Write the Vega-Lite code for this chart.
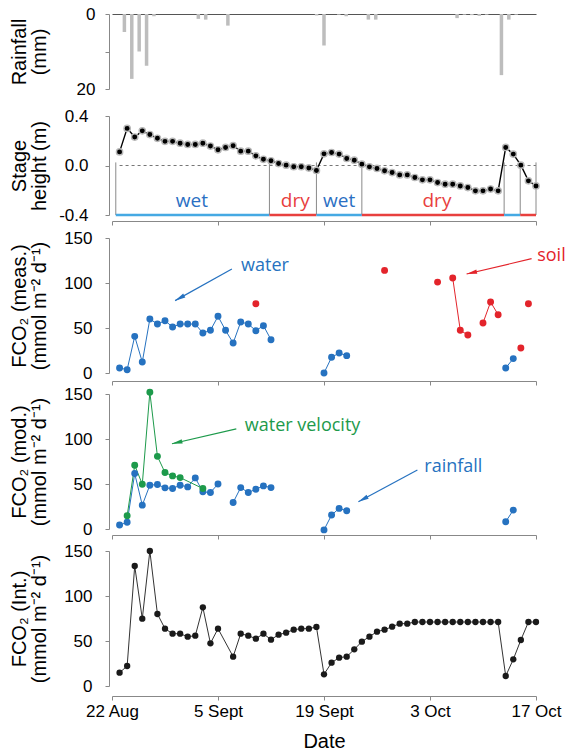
{
 "$schema": "https://vega.github.io/schema/vega-lite/v6.json",
 "padding": {"left": 9, "top": 5, "right": 0, "bottom": 0},
 "bounds": "flush",
 "spacing": 21,
 "resolve": {"scale": {"color": "independent"}},
 "config": {
  "view": {"stroke": null},
  "font": "Liberation Sans",
  "axis": {"grid": false, "domainColor": "#888", "tickColor": "#888", "labelColor": "#000", "labelFont": "Liberation Sans", "labelFontSize": 17, "titleFont": "Liberation Sans", "titleFontSize": 20, "titleFontWeight": "normal", "titleColor": "#000", "tickSize": 4, "labelFlush": false, "labelOverlap": false, "titleLineHeight": 20}
 },
 "datasets": {
  "stage": [
   {"date":"2017/08/23","h":0.11},{"date":"2017/08/24","h":0.30},{"date":"2017/08/25","h":0.23},{"date":"2017/08/26","h":0.28},{"date":"2017/08/27","h":0.25},{"date":"2017/08/28","h":0.22},{"date":"2017/08/29","h":0.195},{"date":"2017/08/30","h":0.195},{"date":"2017/08/31","h":0.18},{"date":"2017/09/01","h":0.17},{"date":"2017/09/02","h":0.17},{"date":"2017/09/03","h":0.18},{"date":"2017/09/04","h":0.157},{"date":"2017/09/05","h":0.127},{"date":"2017/09/06","h":0.146},{"date":"2017/09/07","h":0.16},{"date":"2017/09/08","h":0.116},{"date":"2017/09/09","h":0.116},{"date":"2017/09/10","h":0.078},{"date":"2017/09/11","h":0.05},{"date":"2017/09/12","h":0.038},{"date":"2017/09/13","h":0.016},{"date":"2017/09/14","h":0.003},{"date":"2017/09/15","h":-0.01},{"date":"2017/09/16","h":-0.01},{"date":"2017/09/17","h":-0.02},{"date":"2017/09/18","h":-0.04},{"date":"2017/09/19","h":0.094},{"date":"2017/09/20","h":0.105},{"date":"2017/09/21","h":0.092},{"date":"2017/09/22","h":0.057},{"date":"2017/09/23","h":0.043},{"date":"2017/09/24","h":0.011},{"date":"2017/09/25","h":-0.011},{"date":"2017/09/26","h":-0.024},{"date":"2017/09/27","h":-0.043},{"date":"2017/09/28","h":-0.057},{"date":"2017/09/29","h":-0.076},{"date":"2017/09/30","h":-0.076},{"date":"2017/10/01","h":-0.097},{"date":"2017/10/02","h":-0.116},{"date":"2017/10/03","h":-0.116},{"date":"2017/10/04","h":-0.138},{"date":"2017/10/05","h":-0.151},{"date":"2017/10/06","h":-0.151},{"date":"2017/10/07","h":-0.165},{"date":"2017/10/08","h":-0.178},{"date":"2017/10/09","h":-0.205},{"date":"2017/10/10","h":-0.205},{"date":"2017/10/11","h":-0.19},{"date":"2017/10/12","h":-0.205},{"date":"2017/10/13","h":0.146},{"date":"2017/10/14","h":0.092},{"date":"2017/10/15","h":0.003},{"date":"2017/10/16","h":-0.124},{"date":"2017/10/17","h":-0.165}
  ],
  "meas": [
   {"date":"2017/08/23","v":5.6,"type":"water","seg":"w1"},{"date":"2017/08/24","v":3.7,"type":"water","seg":"w1"},{"date":"2017/08/25","v":40.7,"type":"water","seg":"w1"},{"date":"2017/08/26","v":12.2,"type":"water","seg":"w1"},{"date":"2017/08/27","v":60,"type":"water","seg":"w1"},{"date":"2017/08/28","v":54.4,"type":"water","seg":"w1"},{"date":"2017/08/29","v":58.1,"type":"water","seg":"w1"},{"date":"2017/08/30","v":51.1,"type":"water","seg":"w1"},{"date":"2017/08/31","v":54.4,"type":"water","seg":"w1"},{"date":"2017/09/01","v":54.4,"type":"water","seg":"w1"},{"date":"2017/09/02","v":54.4,"type":"water","seg":"w1"},{"date":"2017/09/03","v":44.4,"type":"water","seg":"w1"},{"date":"2017/09/04","v":47.4,"type":"water","seg":"w1"},{"date":"2017/09/05","v":63,"type":"water","seg":"w1"},{"date":"2017/09/06","v":47.4,"type":"water","seg":"w1"},{"date":"2017/09/07","v":33.3,"type":"water","seg":"w1"},{"date":"2017/09/08","v":56.7,"type":"water","seg":"w1"},{"date":"2017/09/09","v":54.4,"type":"water","seg":"w1"},{"date":"2017/09/10","v":47,"type":"water","seg":"w1"},{"date":"2017/09/11","v":52.6,"type":"water","seg":"w1"},{"date":"2017/09/12","v":37,"type":"water","seg":"w1"},
   {"date":"2017/09/19","v":0,"type":"water","seg":"w2"},{"date":"2017/09/20","v":17.4,"type":"water","seg":"w2"},{"date":"2017/09/21","v":22.2,"type":"water","seg":"w2"},{"date":"2017/09/22","v":19.3,"type":"water","seg":"w2"},
   {"date":"2017/10/13","v":5.6,"type":"water","seg":"w3"},{"date":"2017/10/14","v":16,"type":"water","seg":"w3"},
   {"date":"2017/09/10","v":77,"type":"soil","seg":null},{"date":"2017/09/27","v":114,"type":"soil","seg":null},{"date":"2017/10/04","v":101,"type":"soil","seg":null},{"date":"2017/10/06","v":105.6,"type":"soil","seg":"s1"},{"date":"2017/10/07","v":47.4,"type":"soil","seg":"s1"},{"date":"2017/10/08","v":42.2,"type":"soil","seg":"s1"},{"date":"2017/10/10","v":55.6,"type":"soil","seg":"s2"},{"date":"2017/10/11","v":78.9,"type":"soil","seg":"s2"},{"date":"2017/10/12","v":64.8,"type":"soil","seg":"s2"},{"date":"2017/10/15","v":27.8,"type":"soil","seg":null},{"date":"2017/10/16","v":77,"type":"soil","seg":null}
  ],
  "mod": [
   {"date":"2017/08/23","v":4.4,"type":"rainfall","seg":"r1"},{"date":"2017/08/24","v":7.4,"type":"rainfall","seg":"r1"},{"date":"2017/08/25","v":61.6,"type":"rainfall","seg":"r1"},{"date":"2017/08/26","v":26.5,"type":"rainfall","seg":"r1"},{"date":"2017/08/27","v":48.7,"type":"rainfall","seg":"r1"},{"date":"2017/08/28","v":49.4,"type":"rainfall","seg":"r1"},{"date":"2017/08/29","v":45.7,"type":"rainfall","seg":"r1"},{"date":"2017/08/30","v":45,"type":"rainfall","seg":"r1"},{"date":"2017/08/31","v":48.7,"type":"rainfall","seg":"r1"},{"date":"2017/09/01","v":46.8,"type":"rainfall","seg":"r1"},{"date":"2017/09/02","v":56.8,"type":"rainfall","seg":"r1"},{"date":"2017/09/03","v":41.3,"type":"rainfall","seg":"r1"},{"date":"2017/09/04","v":40.5,"type":"rainfall","seg":"r1"},{"date":"2017/09/05","v":50.1,"type":"rainfall","seg":"r1"},
   {"date":"2017/09/07","v":29.5,"type":"rainfall","seg":"r2"},{"date":"2017/09/08","v":46,"type":"rainfall","seg":"r2"},{"date":"2017/09/09","v":40.5,"type":"rainfall","seg":"r2"},{"date":"2017/09/10","v":44.2,"type":"rainfall","seg":"r2"},{"date":"2017/09/11","v":47.9,"type":"rainfall","seg":"r2"},{"date":"2017/09/12","v":46,"type":"rainfall","seg":"r2"},
   {"date":"2017/09/19","v":-1,"type":"rainfall","seg":"r3"},{"date":"2017/09/20","v":15.5,"type":"rainfall","seg":"r3"},{"date":"2017/09/21","v":22.9,"type":"rainfall","seg":"r3"},{"date":"2017/09/22","v":20.3,"type":"rainfall","seg":"r3"},
   {"date":"2017/10/13","v":8.1,"type":"rainfall","seg":"r4"},{"date":"2017/10/14","v":21,"type":"rainfall","seg":"r4"},
   {"date":"2017/08/24","v":14.7,"type":"velocity","seg":"v1"},{"date":"2017/08/25","v":70.8,"type":"velocity","seg":"v1"},{"date":"2017/08/26","v":49.8,"type":"velocity","seg":"v1"},{"date":"2017/08/27","v":151.9,"type":"velocity","seg":"v1"},{"date":"2017/08/28","v":80.7,"type":"velocity","seg":"v1"},{"date":"2017/08/29","v":62.7,"type":"velocity","seg":"v1"},{"date":"2017/08/30","v":59,"type":"velocity","seg":"v1"},{"date":"2017/08/31","v":57.1,"type":"velocity","seg":"v1"},{"date":"2017/09/03","v":45,"type":"velocity","seg":"v1"}
  ],
  "int": [
   {"date":"2017/08/23","v":14.8},{"date":"2017/08/24","v":22.2},{"date":"2017/08/25","v":133.3},{"date":"2017/08/26","v":74.8},{"date":"2017/08/27","v":150},{"date":"2017/08/28","v":80},{"date":"2017/08/29","v":63.7},{"date":"2017/08/30","v":58.1},{"date":"2017/08/31","v":58.1},{"date":"2017/09/01","v":54.8},{"date":"2017/09/02","v":55.9},{"date":"2017/09/03","v":87.4},{"date":"2017/09/04","v":47.4},{"date":"2017/09/05","v":63.7},{"date":"2017/09/07","v":32.6},{"date":"2017/09/08","v":58.1},{"date":"2017/09/09","v":55.9},{"date":"2017/09/10","v":52.6},{"date":"2017/09/11","v":58.1},{"date":"2017/09/12","v":51.5},{"date":"2017/09/13","v":57},{"date":"2017/09/14","v":59.3},{"date":"2017/09/15","v":62.6},{"date":"2017/09/16","v":63.7},{"date":"2017/09/17","v":63.7},{"date":"2017/09/18","v":65.6},{"date":"2017/09/19","v":13},{"date":"2017/09/20","v":25.9},{"date":"2017/09/21","v":31.5},{"date":"2017/09/22","v":32.6},{"date":"2017/09/23","v":40.7},{"date":"2017/09/24","v":49.3},{"date":"2017/09/25","v":54.8},{"date":"2017/09/26","v":60.4},{"date":"2017/09/27","v":62.6},{"date":"2017/09/28","v":65.9},{"date":"2017/09/29","v":69.3},{"date":"2017/09/30","v":69.3},{"date":"2017/10/01","v":71.1},{"date":"2017/10/02","v":71.1},{"date":"2017/10/03","v":71.1},{"date":"2017/10/04","v":71.1},{"date":"2017/10/05","v":71.1},{"date":"2017/10/06","v":71.1},{"date":"2017/10/07","v":71.1},{"date":"2017/10/08","v":71.1},{"date":"2017/10/09","v":71.1},{"date":"2017/10/10","v":71.1},{"date":"2017/10/11","v":71.1},{"date":"2017/10/12","v":71.1},{"date":"2017/10/13","v":11.1},{"date":"2017/10/14","v":29.6},{"date":"2017/10/15","v":51.1},{"date":"2017/10/16","v":71.1},{"date":"2017/10/17","v":71.1}
  ]
 },
 "vconcat": [
  {
   "width": 424, "height": 81,
   "data": {"values": [
    {"date":"2017/08/23","rain":4.8},{"date":"2017/08/24","rain":17.3},{"date":"2017/08/25","rain":10},{"date":"2017/08/26","rain":13.8},{"date":"2017/08/27","rain":0.6},{"date":"2017/09/02","rain":1.3},{"date":"2017/09/03","rain":1.5},{"date":"2017/09/06","rain":3.1},{"date":"2017/09/18","rain":0.4},{"date":"2017/09/19","rain":8.4},{"date":"2017/09/21","rain":0.2},{"date":"2017/09/22","rain":0.6},{"date":"2017/09/25","rain":1.5},{"date":"2017/09/26","rain":1.5},{"date":"2017/10/07","rain":1.1},{"date":"2017/10/08","rain":0.2},{"date":"2017/10/09","rain":0.3},{"date":"2017/10/10","rain":0.5},{"date":"2017/10/11","rain":0.2},{"date":"2017/10/13","rain":16.3},{"date":"2017/10/14","rain":1.5},{"date":"2017/10/15","rain":0.2}
   ]},
   "mark": {"type": "bar", "size": 3.5, "color": "#bdbdbd"},
   "encoding": {
    "x": {"field": "date", "type": "temporal", "scale": {"domain": [{"year":2017,"month":8,"date":22},{"year":2017,"month":10,"date":17}]}, "axis": {"orient": "top", "ticks": false, "labels": false, "title": null, "domainColor": "#555", "offset": 0}},
    "y": {"field": "rain", "type": "quantitative", "scale": {"domain": [0, 20], "range": [0, 75]}, "axis": {"values": [0, 10, 20], "labelExpr": "datum.value == 10 ? '' : datum.label", "title": ["Rainfall", "(mm)"], "offset": 3, "labelPadding": 10, "titleX": -80}}
   }
  },
  {
   "width": 424, "height": 101,
   "resolve": {"scale": {"color": "independent"}},
   "encoding": {
    "x": {"field": "date", "type": "temporal", "scale": {"domain": [{"year":2017,"month":8,"date":22},{"year":2017,"month":10,"date":17}]}, "axis": {"values": [{"year":2017,"month":8,"date":22},{"year":2017,"month":9,"date":5},{"year":2017,"month":9,"date":19},{"year":2017,"month":10,"date":3},{"year":2017,"month":10,"date":17}], "labels": false, "title": null, "offset": 4}},
    "y": {"field": "h", "type": "quantitative", "scale": {"domain": [-0.4, 0.4], "range": [99, 0]}, "axis": {"values": [-0.4, 0, 0.4], "format": ".1f", "labelExpr": "replace(datum.label, '\u2212', '-')", "title": ["Stage", "height (m)"], "offset": 3, "labelPadding": 17, "titleX": -80}}
   },
   "layer": [
    {
     "data": {"values": [{"date": "2017/08/23", "date2": "2017/10/17", "h": 0}]},
     "mark": {"type": "rule", "strokeDash": [3, 3], "color": "#777", "strokeWidth": 1},
     "encoding": {"x2": {"field": "date2"}}
    },
    {
     "data": {"values": [{"date": "2017/08/22 12:00", "h": 0.025, "h2": -0.4}, {"date": "2017/09/11 19:00", "h": 0.025, "h2": -0.4}, {"date": "2017/09/18 00:00", "h": 0.025, "h2": -0.4}, {"date": "2017/09/24 00:00", "h": 0.025, "h2": -0.4}, {"date": "2017/10/12 19:00", "h": 0.025, "h2": -0.4}, {"date": "2017/10/14 22:00", "h": 0.025, "h2": -0.4}, {"date": "2017/10/17 00:00", "h": 0.025, "h2": -0.4}]},
     "mark": {"type": "rule", "color": "#8a8a8a", "strokeWidth": 1},
     "encoding": {"y2": {"field": "h2"}}
    },
    {
     "data": {"values": [
      {"date": "2017/08/22 12:00", "date2": "2017/09/11 19:00", "h": -0.4, "state": "wet"},
      {"date": "2017/09/11 19:00", "date2": "2017/09/18 00:00", "h": -0.4, "state": "dry"},
      {"date": "2017/09/18 00:00", "date2": "2017/09/24 00:00", "h": -0.4, "state": "wet"},
      {"date": "2017/09/24 00:00", "date2": "2017/10/12 19:00", "h": -0.4, "state": "dry"},
      {"date": "2017/10/12 19:00", "date2": "2017/10/14 22:00", "h": -0.4, "state": "wet"},
      {"date": "2017/10/14 22:00", "date2": "2017/10/17 00:00", "h": -0.4, "state": "dry"}
     ]},
     "mark": {"type": "rule", "strokeWidth": 2.5},
     "encoding": {
      "x2": {"field": "date2"},
      "color": {"field": "state", "type": "nominal", "scale": {"domain": ["wet", "dry"], "range": ["#45a9e3", "#e8403e"]}, "legend": null}
     }
    },
    {
     "data": {"values": [
      {"date": "2017/09/01 13:00", "h": -0.29, "state": "wet"},
      {"date": "2017/09/15 05:00", "h": -0.29, "state": "dry"},
      {"date": "2017/09/21 00:00", "h": -0.29, "state": "wet"},
      {"date": "2017/10/03 22:00", "h": -0.29, "state": "dry"}
     ]},
     "mark": {"type": "text", "font": "Open Sans", "fontSize": 19, "baseline": "middle", "align": "center"},
     "encoding": {
      "text": {"field": "state"},
      "color": {"field": "state", "type": "nominal", "scale": {"domain": ["wet", "dry"], "range": ["#2b6fc3", "#e8403e"]}, "legend": null}
     }
    },
    {
     "data": {"name": "stage"},
     "mark": {"type": "line", "color": "#000", "strokeWidth": 1.4}
    },
    {
     "data": {"name": "stage"},
     "mark": {"type": "point", "filled": true, "fill": "#000", "stroke": "#b8b8b8", "strokeWidth": 1.4, "size": 40, "opacity": 1}
    }
   ]
  },
  {
   "width": 424, "height": 135,
   "encoding": {
    "x": {"field": "date", "type": "temporal", "scale": {"domain": [{"year":2017,"month":8,"date":22},{"year":2017,"month":10,"date":17}]}, "axis": {"values": [{"year":2017,"month":8,"date":22},{"year":2017,"month":9,"date":5},{"year":2017,"month":9,"date":19},{"year":2017,"month":10,"date":3},{"year":2017,"month":10,"date":17}], "labels": false, "title": null, "offset": 8}},
    "y": {"field": "v", "type": "quantitative", "scale": {"domain": [0, 150]}, "axis": {"values": [0, 50, 100, 150], "title": ["FCO\u2082 (meas.)", "(mmol m\u207b\u00b2 d\u207b\u00b9)"], "offset": 3, "labelPadding": 13, "titleX": -80}}
   },
   "layer": [
    {
     "data": {"name": "meas"},
     "transform": [{"filter": "isValid(datum.seg)"}],
     "mark": {"type": "line", "strokeWidth": 1},
     "encoding": {
      "color": {"field": "type", "type": "nominal", "scale": {"domain": ["water", "soil"], "range": ["#2672c0", "#e3242b"]}, "legend": null},
      "detail": {"field": "seg"}
     }
    },
    {
     "data": {"name": "meas"},
     "mark": {"type": "point", "filled": true, "size": 48, "opacity": 1},
     "encoding": {
      "color": {"field": "type", "type": "nominal", "scale": {"domain": ["water", "soil"], "range": ["#2672c0", "#e3242b"]}, "legend": null}
     }
    },
    {
     "data": {"values": [{"date": "2017/09/06 20:00", "v": 115.6, "date2": "2017/08/30 08:00", "v2": 80.4}]},
     "mark": {"type": "rule", "color": "#2672c0", "strokeWidth": 1.2},
     "encoding": {"x2": {"field": "date2"}, "y2": {"field": "v2"}}
    },
    {
     "data": {"values": [{"date": "2017/08/30 08:00", "v": 80.4}]},
     "mark": {"type": "point", "shape": "M0,0L0.45,2.1L-0.45,2.1Z", "filled": true, "color": "#2672c0", "size": 100, "angle": -119.2, "opacity": 1}
    },
    {
     "data": {"values": [{"date": "2017/09/11 05:00", "v": 119.3, "label": "water"}]},
     "mark": {"type": "text", "font": "Open Sans", "fontSize": 18, "color": "#2672c0", "align": "center", "baseline": "middle"},
     "encoding": {"text": {"field": "label"}}
    },
    {
     "data": {"values": [{"date": "2017/10/16 10:00", "v": 127, "date2": "2017/10/07 20:00", "v2": 110}]},
     "mark": {"type": "rule", "color": "#e3242b", "strokeWidth": 1.2},
     "encoding": {"x2": {"field": "date2"}, "y2": {"field": "v2"}}
    },
    {
     "data": {"values": [{"date": "2017/10/07 20:00", "v": 110}]},
     "mark": {"type": "point", "shape": "M0,0L0.45,2.1L-0.45,2.1Z", "filled": true, "color": "#e3242b", "size": 100, "angle": -103.25, "opacity": 1}
    },
    {
     "data": {"values": [{"date": "2017/10/19 01:00", "v": 129.6, "label": "soil"}]},
     "mark": {"type": "text", "font": "Open Sans", "fontSize": 18, "color": "#e3242b", "align": "center", "baseline": "middle"},
     "encoding": {"text": {"field": "label"}}
    }
   ]
  },
  {
   "width": 424, "height": 136,
   "encoding": {
    "x": {"field": "date", "type": "temporal", "scale": {"domain": [{"year":2017,"month":8,"date":22},{"year":2017,"month":10,"date":17}]}, "axis": {"values": [{"year":2017,"month":8,"date":22},{"year":2017,"month":9,"date":5},{"year":2017,"month":9,"date":19},{"year":2017,"month":10,"date":3},{"year":2017,"month":10,"date":17}], "labels": false, "title": null, "offset": 5}},
    "y": {"field": "v", "type": "quantitative", "scale": {"domain": [0, 150], "range": [135, 0]}, "axis": {"values": [0, 50, 100, 150], "title": ["FCO\u2082 (mod.)", "(mmol m\u207b\u00b2 d\u207b\u00b9)"], "offset": 3, "labelPadding": 13, "titleX": -80}}
   },
   "layer": [
    {
     "data": {"name": "mod"},
     "mark": {"type": "line", "strokeWidth": 1},
     "encoding": {
      "color": {"field": "type", "type": "nominal", "scale": {"domain": ["rainfall", "velocity"], "range": ["#2672c0", "#1d9a4b"]}, "legend": null},
      "detail": {"field": "seg"}
     }
    },
    {
     "data": {"name": "mod"},
     "mark": {"type": "point", "filled": true, "size": 48, "opacity": 1},
     "encoding": {
      "color": {"field": "type", "type": "nominal", "scale": {"domain": ["rainfall", "velocity"], "range": ["#2672c0", "#1d9a4b"]}, "legend": null}
     }
    },
    {
     "data": {"values": [{"date": "2017/09/07 10:00", "v": 111.3, "date2": "2017/08/29 22:00", "v2": 94.7}]},
     "mark": {"type": "rule", "color": "#1d9a4b", "strokeWidth": 1.2},
     "encoding": {"x2": {"field": "date2"}, "y2": {"field": "v2"}}
    },
    {
     "data": {"values": [{"date": "2017/08/29 22:00", "v": 94.7}]},
     "mark": {"type": "point", "shape": "M0,0L0.45,2.1L-0.45,2.1Z", "filled": true, "color": "#1d9a4b", "size": 100, "angle": -103.1, "opacity": 1}
    },
    {
     "data": {"values": [{"date": "2017/09/16 04:00", "v": 114.3, "label": "water velocity"}]},
     "mark": {"type": "text", "font": "Open Sans", "fontSize": 18, "color": "#1d9a4b", "align": "center", "baseline": "middle"},
     "encoding": {"text": {"field": "label"}}
    },
    {
     "data": {"values": [{"date": "2017/10/01 08:00", "v": 65.6, "date2": "2017/09/23 13:00", "v2": 30.2}]},
     "mark": {"type": "rule", "color": "#2672c0", "strokeWidth": 1.2},
     "encoding": {"x2": {"field": "date2"}, "y2": {"field": "v2"}}
    },
    {
     "data": {"values": [{"date": "2017/09/23 13:00", "v": 30.2}]},
     "mark": {"type": "point", "shape": "M0,0L0.45,2.1L-0.45,2.1Z", "filled": true, "color": "#2672c0", "size": 100, "angle": -118.5, "opacity": 1}
    },
    {
     "data": {"values": [{"date": "2017/10/06 02:00", "v": 69.3, "label": "rainfall"}]},
     "mark": {"type": "text", "font": "Open Sans", "fontSize": 18, "color": "#2672c0", "align": "center", "baseline": "middle"},
     "encoding": {"text": {"field": "label"}}
    }
   ]
  },
  {
   "width": 424, "height": 135,
   "data": {"name": "int"},
   "encoding": {
    "x": {"field": "date", "type": "temporal", "scale": {"domain": [{"year":2017,"month":8,"date":22},{"year":2017,"month":10,"date":17}]}, "axis": {"values": [{"year":2017,"month":8,"date":22},{"year":2017,"month":9,"date":5},{"year":2017,"month":9,"date":19},{"year":2017,"month":10,"date":3},{"year":2017,"month":10,"date":17}], "labelExpr": "timeFormat(datum.value, '%-d') + ' ' + (month(datum.value) == 8 ? 'Sept' : timeFormat(datum.value, '%b'))", "labelPadding": 3, "title": "Date", "titlePadding": 12, "offset": 10}},
    "y": {"field": "v", "type": "quantitative", "scale": {"domain": [0, 150]}, "axis": {"values": [0, 50, 100, 150], "title": ["FCO\u2082 (Int.)", "(mmol m\u207b\u00b2 d\u207b\u00b9)"], "offset": 3, "labelPadding": 13, "titleX": -80}}
   },
   "layer": [
    {"mark": {"type": "line", "color": "#333", "strokeWidth": 1}},
    {"mark": {"type": "point", "filled": true, "color": "#1a1a1a", "size": 40, "opacity": 1}}
   ]
  }
 ]
}
